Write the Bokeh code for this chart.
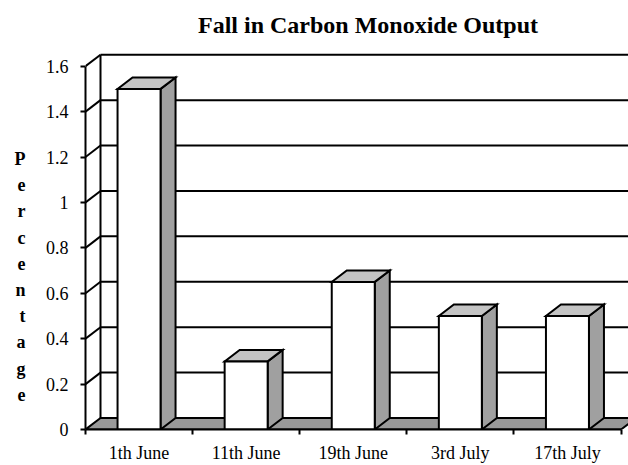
from bokeh.plotting import figure
from bokeh.models import Range1d, FixedTicker, Label, LinearAxis
from bokeh.embed import file_html
from bokeh.resources import INLINE

categories = ["1th June", "11th June", "19th June", "3rd July", "17th July"]
values = [1.5, 0.3, 0.65, 0.5, 0.5]
y_ticks = [0, 0.2, 0.4, 0.6, 0.8, 1.0, 1.2, 1.4, 1.6]
y_tick_labels = ["0", "0.2", "0.4", "0.6", "0.8", "1", "1.2", "1.4", "1.6"]
title_text = "Fall in Carbon Monoxide Output"
y_label = "Percentage"

# layout (pixels -> data units)
PX_X = 107.1
PX_Y = 227.6
DX = 15 / PX_X
DY = 11.5 / PX_Y
BAR_W = 43 / PX_X
FONT = "Liberation Serif"

W, H = 628, 465
LEFT, BOTTOM = 85, 35
frame_w = W - LEFT
frame_h = H - BOTTOM
n = len(categories)
y_max = y_ticks[-1]

p = figure(width=W, height=H, output_backend="svg", toolbar_location=None,
           x_range=Range1d(0, frame_w / PX_X), y_range=Range1d(0, frame_h / PX_Y),
           min_border_left=LEFT, min_border_right=0, min_border_top=0,
           min_border_bottom=BOTTOM, x_axis_location=None, y_axis_location=None)
p.outline_line_color = None
p.xgrid.visible = False
p.ygrid.visible = False

LW = 2
grid_vals = [v for v in y_ticks if v > 0]
# back wall gridlines
p.segment(x0=[DX] * len(grid_vals), y0=[v + DY for v in grid_vals],
          x1=[n + DX] * len(grid_vals), y1=[v + DY for v in grid_vals],
          line_color="black", line_width=LW)
# side wall lines
p.segment(x0=[0] * len(grid_vals), y0=grid_vals,
          x1=[DX] * len(grid_vals), y1=[v + DY for v in grid_vals],
          line_color="black", line_width=LW)
p.segment(x0=[DX], y0=[DY], x1=[DX], y1=[y_max + DY], line_color="black", line_width=LW)
# floor
p.patch(x=[0, n, n + DX, DX], y=[0, 0, DY, DY], fill_color="#999999",
        line_color="black", line_width=LW)

centers = [i + 0.5 for i in range(n)]
lefts = [c - BAR_W / 2 for c in centers]
rights = [c + BAR_W / 2 for c in centers]
p.patches(xs=[[r, r + DX, r + DX, r] for r in rights],
          ys=[[0, DY, v + DY, v] for v in values],
          fill_color="#a0a0a0", line_color="black", line_width=LW, line_join="miter")
p.patches(xs=[[l, r, r + DX, l + DX] for l, r in zip(lefts, rights)],
          ys=[[v, v, v + DY, v + DY] for v in values],
          fill_color="#c4c4c4", line_color="black", line_width=LW, line_join="miter")
p.quad(left=lefts, right=rights, bottom=0, top=values, fill_color="white",
       line_color="black", line_width=LW, line_join="miter")

# value axis
yax = LinearAxis(ticker=FixedTicker(ticks=y_ticks, minor_ticks=[]), bounds=(0, y_max))
yax.major_label_overrides = {t: s for t, s in zip(y_ticks, y_tick_labels)}
yax.axis_line_width = LW
yax.major_tick_line_width = LW
yax.major_tick_out = 5
yax.major_tick_in = 0
yax.major_label_standoff = 12
yax.major_label_text_font = FONT
yax.major_label_text_font_size = "18px"
yax.major_label_text_color = "black"
p.add_layout(yax, "left")

# stacked vertical axis title, carried as the single label of a bare axis
LBL_CENTER = frame_h - 277
p.extra_y_ranges = {"ylabel": Range1d(0, frame_h)}
lax = LinearAxis(y_range_name="ylabel", ticker=FixedTicker(ticks=[LBL_CENTER], minor_ticks=[]))
lax.axis_line_color = None
lax.major_tick_line_color = None
lax.minor_tick_line_color = None
lax.major_tick_out = 0
lax.major_tick_in = 0
lax.major_label_overrides = {LBL_CENTER: "\n".join(y_label)}
lax.major_label_text_font = FONT
lax.major_label_text_font_style = "bold"
lax.major_label_text_font_size = "18px"
lax.major_label_text_color = "black"
lax.major_label_text_line_height = 1.31
lax.major_label_text_align = "center"
lax.major_label_standoff = 17
p.add_layout(lax, "left")

# category axis
xax = LinearAxis(ticker=FixedTicker(ticks=centers, minor_ticks=list(range(n + 1))),
                 bounds=(0, n))
xax.major_label_overrides = {c: s for c, s in zip(centers, categories)}
xax.axis_line_width = LW
xax.major_tick_out = 0
xax.major_tick_in = 0
xax.minor_tick_out = 5
xax.minor_tick_in = 0
xax.minor_tick_line_width = LW
xax.major_label_standoff = 8
xax.major_label_text_font = FONT
xax.major_label_text_font_size = "18px"
xax.major_label_text_color = "black"
p.add_layout(xax, "below")

p.add_layout(Label(x=(367.5 - LEFT) / PX_X, y=(frame_h - 25) / PX_Y, text=title_text,
                   text_font=FONT, text_font_style="bold", text_font_size="24px",
                   text_align="center", text_baseline="alphabetic", text_color="black"))

open("out.html", "w").write(file_html(p, INLINE))
